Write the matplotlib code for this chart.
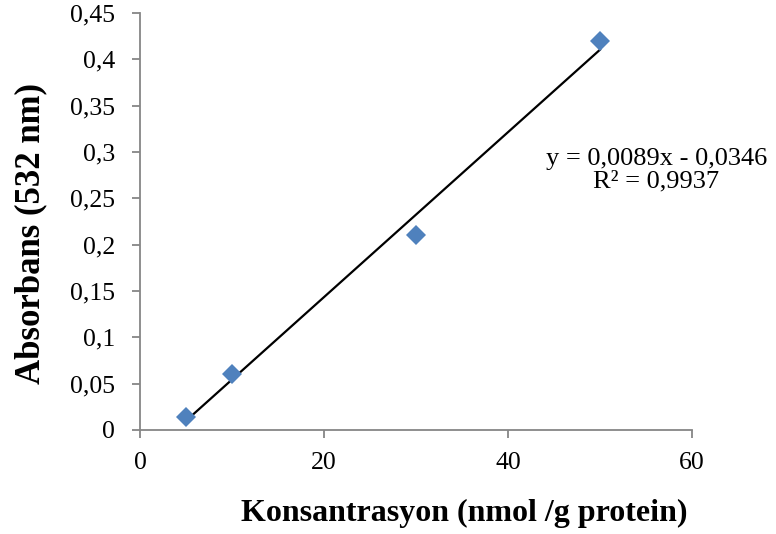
import numpy as np
import matplotlib
matplotlib.use("Agg")
import matplotlib.pyplot as plt
from matplotlib.ticker import FuncFormatter

plt.rcParams['font.family'] = ['Liberation Serif', 'DejaVu Serif']

# Calibration data
concentration = [5, 10, 30, 50]
absorbance = [0.014, 0.06, 0.21, 0.42]

# Linear fit parameters as reported
slope = 0.0089
intercept = -0.0346
r_squared = 0.9937

x_ticks = [0, 20, 40, 60]
y_ticks = [0, 0.05, 0.1, 0.15, 0.2, 0.25, 0.3, 0.35, 0.4, 0.45]

W, H = 776, 534
fig = plt.figure(figsize=(W / 100, H / 100), dpi=100)
ax = fig.add_axes([0.1804, 0.1948, 0.7114, 0.7809])

axis_gray = '#868686'

fit_x = np.array([min(concentration), max(concentration)])
fit_y = slope * fit_x + intercept
ax.plot(fit_x, fit_y, color='black', lw=1.6, zorder=2)
ax.plot(concentration, absorbance, linestyle='none', marker='D',
        markersize=10.5, color='#4F81BD', markeredgewidth=0, zorder=3)

ax.set_xlim(0, 60)
ax.set_ylim(0, 0.45)
ax.set_xticks(x_ticks)
ax.set_yticks(y_ticks)


def comma_fmt(v, pos):
    s = f"{v:.2f}".rstrip('0').rstrip('.')
    return s.replace('.', ',')


ax.yaxis.set_major_formatter(FuncFormatter(comma_fmt))
ax.xaxis.set_major_formatter(FuncFormatter(lambda v, p: f"{int(v)}"))

for side in ['top', 'right']:
    ax.spines[side].set_visible(False)
for side in ['left', 'bottom']:
    ax.spines[side].set_color(axis_gray)
    ax.spines[side].set_linewidth(1.3)

ax.tick_params(axis='both', direction='out', length=6, width=1.3,
               color=axis_gray, labelsize=18.5, labelcolor='black')
ax.tick_params(axis='y', pad=12)
ax.tick_params(axis='x', pad=10)

# Axis titles
fig.text(464 / W, 1 - 513 / H, 'Konsantrasyon (nmol /g protein)',
         fontsize=23, fontweight='bold', ha='center', va='center')
fig.text(31 / W, 1 - 234 / H, 'Absorbans (532 nm)', rotation=90,
         fontsize=25, fontweight='bold', ha='center', va='center')

# Trendline equation
ax.text(0.935, 0.623,
        f"y = {str(slope).replace('.', ',')}x - {str(abs(intercept)).replace('.', ',')}\n"
        f"R² = {str(r_squared).replace('.', ',')}",
        transform=ax.transAxes, ha='center', va='center', fontsize=19,
        linespacing=1.0)

fig.savefig('out.png', dpi=100)
